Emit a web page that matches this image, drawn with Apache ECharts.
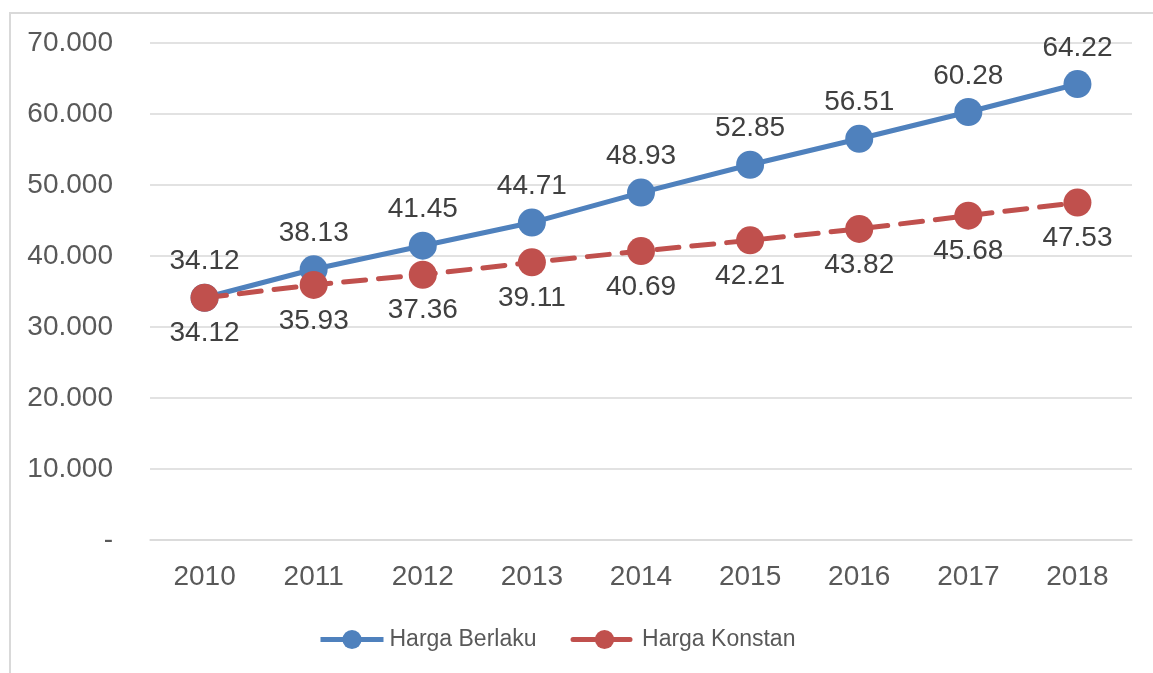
<!DOCTYPE html>
<html>
<head>
<meta charset="utf-8">
<script src="https://cdn.jsdelivr.net/npm/echarts@6/dist/echarts.min.js"></script>
<style>
html,body{margin:0;padding:0;background:#fff;}
#frame{position:absolute;left:9px;top:12px;width:1160px;height:700px;border:2px solid #d9d9d9;box-sizing:border-box;}
#chart{position:absolute;left:0;top:0;width:1153px;height:673px;}
</style>
</head>
<body>
<div id="frame"></div>
<div id="chart"></div>
<script>
const years = ['2010','2011','2012','2013','2014','2015','2016','2017','2018'];
const hargaBerlaku = [34.12, 38.13, 41.45, 44.71, 48.93, 52.85, 56.51, 60.28, 64.22];
const hargaKonstan = [34.12, 35.93, 37.36, 39.11, 40.69, 42.21, 43.82, 45.68, 47.53];
const seriesNames = ['Harga Berlaku', 'Harga Konstan'];

const FONT = '"Liberation Sans Narrow", "Liberation Sans", Arial, sans-serif';
const chart = echarts.init(document.getElementById('chart'));
chart.setOption({
  animation: false,
  textStyle: { fontFamily: FONT },
  grid: { left: 150, right: 21, top: 43, bottom: 133, containLabel: false },
  legend: {
    bottom: 17,
    left: 313,
    itemWidth: 63,
    itemHeight: 24,
    itemGap: 34,
    lineStyle: { width: 5 },
    textStyle: { fontFamily: FONT, fontSize: 23, color: '#595959', padding: [0, 0, 0, 1] },
    data: seriesNames
  },
  xAxis: {
    type: 'category',
    data: years,
    boundaryGap: true,
    axisLine: { show: true, lineStyle: { color: '#d9d9d9', width: 1.5 } },
    axisTick: { show: false },
    axisLabel: { fontFamily: FONT, fontSize: 28, color: '#595959', margin: 23 }
  },
  yAxis: {
    type: 'value',
    min: 0, max: 70, interval: 10,
    axisLine: { show: false },
    axisTick: { show: false },
    splitLine: { lineStyle: { color: '#d9d9d9', width: 1.5 } },
    axisLabel: {
      fontFamily: FONT, fontSize: 28, color: '#595959', margin: 37,
      formatter: v => v === 0 ? '-' : v.toFixed(3)
    }
  },
  series: [
    {
      name: seriesNames[0],
      type: 'line',
      data: hargaBerlaku,
      symbol: 'circle',
      symbolSize: 28,
      itemStyle: { color: '#4F81BD' },
      lineStyle: { color: '#4F81BD', width: 5 },
      label: {
        show: true, position: 'top', distance: 8,
        fontFamily: FONT, fontSize: 28, color: '#404040',
        formatter: p => p.value.toFixed(2)
      },
      z: 2
    },
    {
      name: seriesNames[1],
      type: 'line',
      data: hargaKonstan,
      symbol: 'circle',
      symbolSize: 28,
      itemStyle: { color: '#C0504D' },
      lineStyle: { color: '#C0504D', width: 5, type: [22, 13], cap: 'round' },
      label: {
        show: true, position: 'bottom', distance: 8,
        fontFamily: FONT, fontSize: 28, color: '#404040',
        formatter: p => p.value.toFixed(2)
      },
      z: 3
    }
  ]
});
</script>
</body>
</html>
